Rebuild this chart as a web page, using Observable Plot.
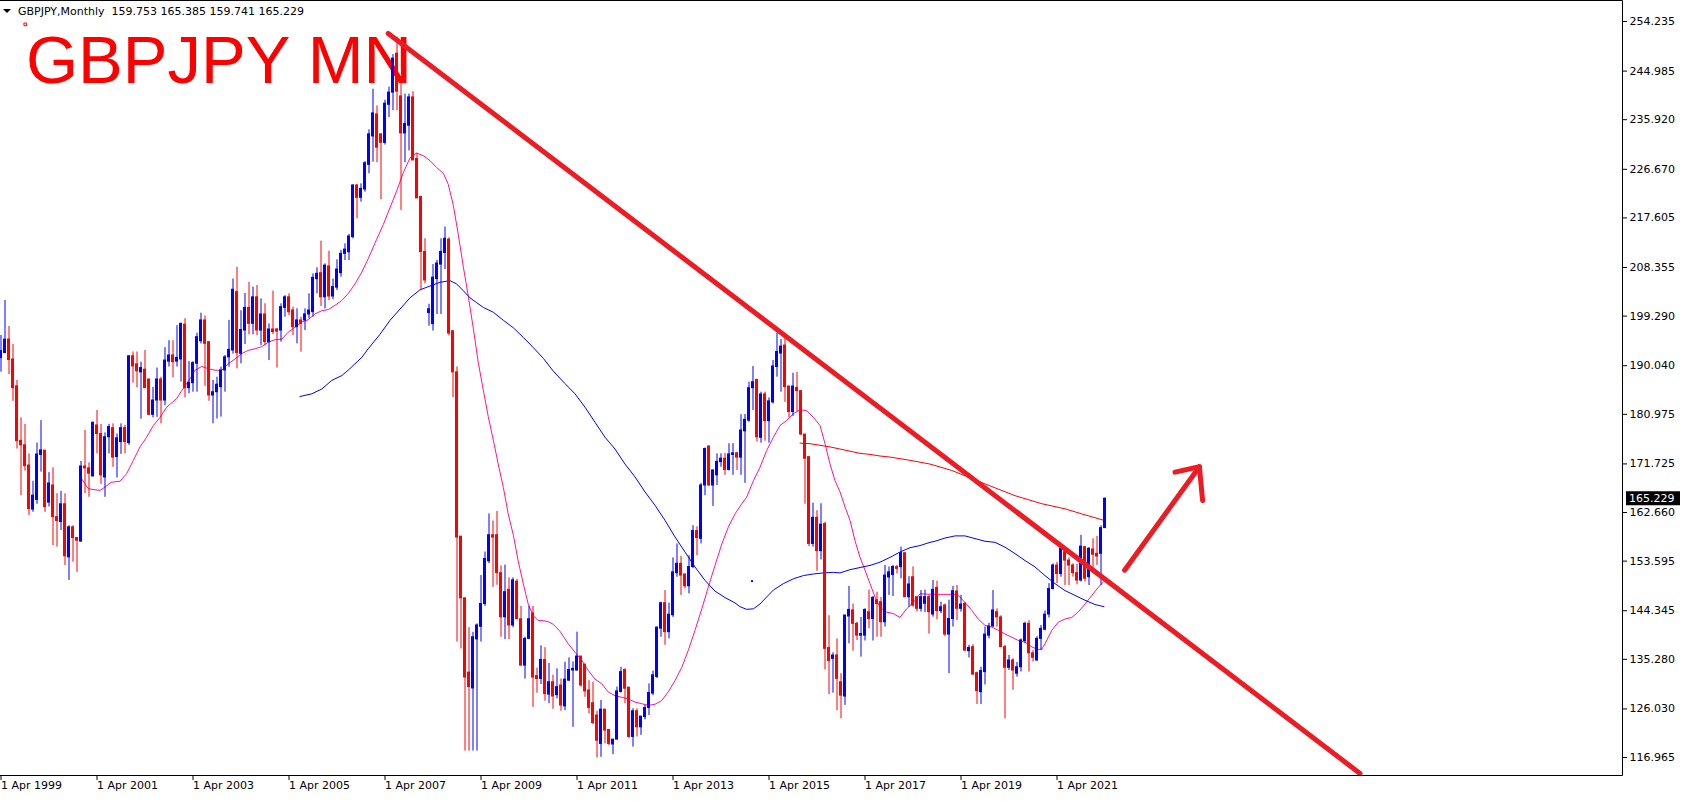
<!DOCTYPE html>
<html><head><meta charset="utf-8">
<script src="https://cdn.jsdelivr.net/npm/d3@7"></script>
<script src="https://cdn.jsdelivr.net/npm/@observablehq/plot@0.6"></script>
<style>
html,body{margin:0;padding:0;background:#fff;overflow:hidden}
#chart{position:relative;width:1692px;height:801px}
svg{display:block}
</style></head><body><div id="chart"></div>
<script>
// ---- Data: GBPJPY monthly candles, month index 0 = Apr 1999 ----
const opens = [
191.45,192.4,194.93,191.2,186.2,176.03,175.2,171.43,163.2,165.0,
173.4,174.2,164.5,167.7,161.8,160.9,164.2,154.3,159.9,157.9,
157.25,171.24,170.9,169.4,178.9,177.3,169.2,176.7,178.4,173.0,
175.8,178.4,175.6,191.8,190.3,188.8,189.3,187.47,180.88,183.55,
187.47,183.55,190.8,191.95,190.8,191.2,197.7,185.85,186.78,190.4,
194.6,198.48,194.43,184.49,185.1,186.04,189.15,191.6,192.88,203.76,
192.26,196.6,200.83,197.85,202.8,196.6,199.6,194.43,196.8,196.8,
196.6,200.83,202.8,200.34,197.23,198.48,198.48,199.6,200.03,206.18,
207.3,202.8,208.55,202.95,204.6,207.3,210.9,211.2,214.02,223.65,
221.35,222.9,227.5,232.8,236.9,233.2,231.6,238.7,240.97,248.23,
240.27,233.36,234.8,240.09,228.59,221.51,211.25,199.86,197.8,206.2,
208.9,211.07,213.55,196.47,188.8,158.16,146.66,132.8,129.85,139.0,
141.35,145.6,153.56,158.43,158.43,151.35,143.12,148.25,141.6,149.76,
142.76,134.1,139.1,143.83,132.15,131.62,135.16,128.7,131.0,128.6,
130.4,126.5,131.3,133.2,133.2,135.8,134.3,129.47,127.1,124.8,
119.5,125.9,122.1,119.4,120.3,129.2,133.3,130.0,120.8,125.6,
122.6,124.5,126.2,128.9,132.0,141.0,145.75,140.35,143.5,151.35,
153.1,151.1,148.9,152.5,159.2,157.75,167.7,174.97,167.7,169.6,
172.05,172.7,170.6,173.4,173.7,172.9,177.8,179.8,185.85,187.4,
176.6,184.67,179.7,183.2,189.8,192.3,193.8,186.16,181.4,185.9,
185.3,177.2,172.99,156.8,161.67,155.45,160.5,137.4,135.37,136.0,
131.0,128.35,143.27,144.4,141.9,139.7,139.7,144.07,142.8,146.3,
145.94,142.2,150.55,151.0,152.47,152.47,155.07,146.87,150.6,146.87,
144.7,145.63,146.87,143.64,148.6,144.26,145.32,139.9,142.8,147.93,
144.7,145.6,136.8,137.55,132.7,129.16,132.9,139.7,141.4,144.07,
143.1,137.55,133.7,135.07,132.6,133.8,138.7,141.9,136.4,135.07,
139.1,140.8,143.64,148.4,152.78,151.2,155.27,153.7,152.78,151.35,
149.98,156.2,150.6,155.77,154.96,154.96,159.753];
const highs = [
195.67,202.2,197.35,194.0,187.3,180.3,179.1,173.6,168.5,175.6,
179.8,174.2,170.1,171.0,166.15,166.6,166.15,160.2,160.2,157.9,
172.2,177.96,171.9,179.5,181.7,179.1,177.5,179.1,179.2,177.3,
179.2,178.9,191.9,192.6,192.6,190.7,192.9,187.5,186.0,189.6,
187.9,193.4,194.7,194.7,197.5,197.97,198.8,190.8,190.8,196.1,
199.84,199.3,194.43,187.3,187.9,189.77,191.95,198.5,206.2,208.4,
200.3,203.5,205.6,204.7,205.0,202.5,201.6,197.85,203.95,197.0,
201.58,203.1,203.45,200.96,200.65,199.1,200.65,203.45,207.18,208.3,
213.27,209.04,211.4,206.2,209.79,211.53,212.77,214.5,223.8,223.84,
223.96,228.1,234.03,241.6,238.5,233.2,239.56,242.0,248.05,251.3,
242.9,240.7,240.7,241.15,229.65,221.51,213.72,201.5,208.9,209.7,
213.7,215.9,213.9,196.47,189.8,158.16,146.66,141.2,140.3,141.9,
150.9,155.3,162.4,161.08,162.85,152.7,152.86,150.47,150.47,150.2,
145.16,139.4,145.16,145.16,133.65,137.8,137.46,134.54,132.33,133.5,
131.6,134.75,135.56,134.8,140.35,135.8,134.3,131.3,131.0,125.6,
127.6,125.9,122.1,120.3,130.1,133.8,133.5,130.0,126.05,126.05,
124.6,126.7,130.7,133.1,141.3,145.9,148.1,145.75,154.2,156.8,
154.5,151.2,154.6,160.2,160.0,168.1,174.7,175.1,170.6,173.6,
173.6,173.7,175.5,175.5,173.9,180.9,180.94,186.97,189.9,187.4,
185.1,185.1,184.05,191.0,196.1,194.9,195.5,186.16,188.65,188.8,
185.3,177.2,173.0,164.4,163.0,164.3,160.86,143.4,136.5,139.1,
132.6,143.45,148.9,145.6,142.2,143.1,144.7,148.2,147.0,147.8,
146.8,152.8,152.5,152.8,152.8,156.2,155.1,150.7,152.5,146.9,
148.1,148.2,147.2,149.98,149.86,145.94,145.6,146.3,148.9,149.05,
147.2,145.9,137.9,138.0,132.9,133.8,141.3,142.0,148.1,144.7,
143.4,137.9,136.0,135.4,134.7,139.1,142.2,142.5,136.9,139.5,
141.6,144.3,149.4,153.1,153.4,156.5,156.3,154.2,153.1,152.97,
158.4,156.3,156.1,157.76,158.2,160.2,165.385];
const lows = [
188.84,192.3,188.4,183.4,174.5,165.8,170.4,162.1,162.7,164.2,
170.2,162.7,163.7,156.5,156.2,159.3,152.78,150.0,153.4,151.5,
157.1,166.2,165.5,169.3,173.6,167.9,165.5,173.6,171.1,169.1,
173.5,173.6,175.2,186.8,185.9,180.07,185.85,180.9,180.3,180.4,
179.2,182.6,189.8,187.8,189.8,187.0,184.05,184.8,185.1,185.1,
194.1,186.2,183.4,179.2,180.1,180.45,185.1,189.77,192.2,189.45,
190.4,193.99,195.8,195.8,195.67,193.8,193.8,191.0,195.86,189.6,
194.43,199.1,199.4,195.67,194.12,192.57,196.6,198.78,199.1,203.45,
201.09,200.65,202.2,202.33,204.07,206.55,209.66,209.66,213.7,217.43,
220.54,222.4,225.83,228.0,227.9,221.0,231.2,236.3,237.6,237.6,
219.0,227.9,230.09,228.32,221.24,204.0,205.3,197.4,196.5,199.6,
199.6,207.97,195.6,184.09,138.5,137.2,118.17,118.17,118.17,118.17,
138.5,145.16,153.12,148.7,149.1,139.4,138.96,138.96,141.17,142.76,
134.1,131.6,138.96,126.31,128.97,130.56,127.46,127.0,125.96,127.9,
125.6,125.7,131.2,122.6,133.1,130.1,128.2,125.1,123.1,116.9,
117.0,119.5,119.2,117.5,120.3,129.0,127.0,120.6,118.9,120.8,
121.1,124.0,124.8,128.5,131.7,139.4,137.9,139.1,143.1,150.6,
147.2,148.4,147.5,152.2,154.6,156.8,165.8,167.6,163.8,167.7,
171.1,169.6,170.4,169.6,170.5,169.6,168.1,179.5,181.7,175.8,
175.6,175.97,175.6,182.9,187.9,185.1,183.2,180.3,180.57,181.4,
177.0,164.2,156.3,156.2,151.7,153.8,133.3,128.7,128.97,125.7,
124.2,126.7,138.17,136.8,138.8,135.7,138.7,140.97,138.7,139.4,
139.4,141.3,147.2,147.0,151.2,150.3,146.87,145.0,145.0,144.1,
144.1,144.0,140.0,143.14,142.65,143.8,139.5,132.6,141.3,142.5,
144.1,136.8,135.56,132.27,126.86,126.86,130.5,139.1,141.3,141.3,
137.5,124.2,133.2,129.5,131.96,132.9,138.2,132.9,134.8,134.9,
136.9,140.6,143.0,148.24,149.4,150.6,149.05,149.05,150.6,149.2,
149.7,149.7,149.05,151.5,152.8,149.05,159.741];
const closes = [
192.75,194.9,191.1,185.85,175.97,175.2,171.3,163.3,165.8,173.48,
174.25,163.66,168.07,161.8,161.05,164.2,154.5,159.9,157.9,157.4,
171.24,170.9,169.9,179.4,177.3,169.6,176.7,178.6,172.9,176.5,
178.4,175.8,191.8,189.9,189.0,189.6,185.85,180.88,183.55,187.47,
183.55,191.0,191.95,190.7,191.5,197.85,185.85,186.85,190.52,195.36,
198.48,194.12,184.49,185.1,186.5,189.15,191.6,193.0,204.2,192.4,
196.7,200.83,197.85,202.8,196.6,199.6,194.43,196.8,196.3,196.4,
200.96,202.8,200.0,197.2,198.48,197.85,199.6,200.34,206.43,207.18,
202.8,208.7,202.95,204.7,207.98,210.9,211.7,214.14,223.65,221.35,
223.03,227.8,233.2,237.1,230.7,231.6,238.9,240.97,247.3,241.15,
233.36,235.13,240.09,228.32,221.24,211.25,205.94,200.57,206.47,209.1,
211.25,213.72,196.03,188.8,157.99,146.66,131.89,130.12,139.4,141.6,
145.6,154.0,158.43,157.99,151.35,143.12,147.81,141.6,150.02,142.76,
134.1,139.1,142.76,131.89,131.62,135.16,128.79,131.0,128.35,130.1,
126.67,131.5,133.3,133.5,135.8,130.4,129.3,126.23,123.4,120.1,
125.9,122.0,119.5,120.3,129.3,132.9,129.8,120.8,125.6,122.6,
124.6,126.2,129.0,132.3,141.2,145.75,140.35,143.6,151.5,153.1,
150.9,148.9,152.5,159.2,157.9,167.7,174.5,167.7,170.5,172.1,
172.7,170.6,173.5,173.7,172.9,177.96,179.95,185.85,186.97,176.7,
184.67,179.7,183.4,189.9,192.6,193.6,186.04,181.4,186.16,185.3,
177.2,172.7,156.8,161.67,155.45,160.4,137.24,134.94,135.99,131.64,
128.5,143.45,144.5,141.9,139.7,140.0,144.5,142.8,146.75,145.6,
142.2,150.9,151.5,152.5,152.16,155.07,146.87,149.23,145.3,144.7,
146.87,146.87,144.07,148.24,144.26,145.0,139.9,142.8,147.99,144.7,
145.5,136.9,137.4,132.45,129.35,133.1,139.9,141.4,144.4,143.1,
137.55,133.7,135.07,133.2,133.8,138.8,141.9,136.4,135.56,139.1,
140.97,143.6,148.4,152.78,151.2,155.9,153.7,152.78,151.35,149.98,
156.3,150.3,155.9,154.8,154.46,159.75,165.229];

// Moving averages: [month index, price]
const pinkMA = [[20.2,168.9],[21.8,167.1],[23.5,166.9],[24.75,166.8],[26,167.4],[27.5,168.3],[29.75,168.5],[31.4,169.9],[33.1,172.4],[34.75,174.9],[36.4,176.7],[38.1,178.9],[39.75,180.4],[41.4,182.3],[43.9,183.9],[45.2,185.4],[47.25,187.6],[48.5,189.2],[50.2,189.9],[51.8,189.5],[53.5,189.2],[55.2,189.2],[56.8,190.4],[58.5,191.3],[60.2,192.3],[61.8,192.9],[63.5,193.2],[65.2,193.6],[66.8,194.4],[68.5,194.9],[70.2,195.0],[71.8,196.3],[73.5,197.2],[75.2,198.2],[76.8,198.6],[78.5,199.7],[80.2,200.3],[81.8,200.5],[83.5,201.3],[85.2,202.2],[86.8,203.5],[88.5,205.3],[90.2,207.5],[91.8,210.0],[93.9,213.6],[95.6,216.4],[97.25,219.5],[98.9,222.6],[100.6,226.1],[102.25,228.8],[103.9,229.7],[105.6,229.2],[107.25,228.3],[108.9,227.0],[110.6,225.9],[111.8,223.9],[113.1,219.9],[114.3,214.6],[115.6,208.4],[116.8,203.1],[118.1,196.9],[119.3,190.7],[120.6,185.4],[121.8,180.6],[123.1,176.1],[124.3,171.7],[125.6,167.3],[126.8,162.4],[128.1,158.4],[129.3,153.6],[130.6,149.3],[131.8,145.6],[133.1,143.4],[134.3,142.5],[135.6,142.5],[136.8,142.3],[138.1,141.8],[139.75,140.5],[141.8,138.2],[143.5,136.6],[145.2,135.1],[146.8,133.2],[148.5,131.6],[150.2,130.7],[151.8,129.2],[153.5,128.5],[155.2,128.2],[156.8,127.9],[158.5,127.3],[160.2,127.0],[161.8,126.7],[163.5,126.9],[165.2,127.6],[166.8,129.2],[168.5,131.3],[170.2,133.8],[171.8,136.9],[173.5,140.7],[175.2,144.7],[176.8,148.7],[178.5,152.8],[180.2,156.8],[181.8,159.9],[183.5,162.4],[185.2,164.3],[186.4,165.5],[188.1,168.6],[189.75,171.1],[191.4,174.2],[193.1,176.7],[194.75,178.9],[196.4,179.8],[198.1,181.1],[199.75,181.8],[201.4,181.7],[203.1,180.4],[204.75,178.9],[206,175.5],[207.25,171.7],[208.5,168.6],[209.75,166.5],[211,163.7],[212.25,161.2],[213.5,157.4],[214.75,154.3],[216,151.9],[217.25,149.4],[218.5,146.9],[219.75,145.0],[221.4,144.1],[223.1,143.8],[224.75,143.1],[226.4,144.7],[228.1,145.9],[229.75,147.5],[232.7,147.4],[235.2,147.4],[237.7,147.4],[239.3,147.2],[241,145.9],[242.7,144.4],[244.3,142.8],[246,141.6],[247.7,141.3],[249.3,140.7],[251,140.0],[252.7,139.4],[254.3,138.8],[256,138.5],[257.7,137.6],[259.3,137.1],[260.2,137.2],[261,138.2],[262.7,140.7],[264.3,142.2],[266,142.8],[267.7,143.1],[269.3,144.1],[271,145.6],[272.7,147.2],[274.3,148.7],[275.6,149.7]];
const blueMA = [[74.75,184.3],[77.7,184.8],[80.2,185.7],[82.7,187.3],[85.2,188.2],[86.8,189.2],[88.5,190.4],[90.2,191.6],[91.8,193.2],[94.75,195.9],[97.25,198.5],[99.75,200.6],[102.25,202.7],[104.75,204.2],[107.25,204.9],[109.75,205.6],[112.25,205.9],[113.9,205.3],[115.6,204.0],[117.25,202.7],[118.9,201.8],[120.6,200.9],[123.1,200.0],[125.6,198.5],[128.1,197.1],[130.6,195.3],[133.1,193.4],[135.6,191.4],[138.1,189.0],[141,186.7],[143.5,184.8],[146,182.3],[148.5,179.5],[151,176.7],[153.5,174.5],[156,171.7],[158.5,169.3],[161,166.5],[163.5,164.0],[166,161.2],[168.5,158.1],[171,155.3],[173.5,152.5],[176,150.0],[178.5,148.0],[181,146.8],[183.5,145.8],[184.75,145.1],[186.4,144.6],[188.1,144.7],[189.75,145.6],[191.4,146.9],[193.1,148.2],[195.6,149.4],[198.1,150.3],[200.6,150.9],[203.1,151.2],[205.6,151.4],[208.1,151.5],[209.75,151.4],[212.25,152.0],[214.75,152.4],[217.25,152.8],[219.75,153.4],[222.25,154.3],[224.75,155.3],[227.25,156.1],[229.75,156.5],[232.25,157.1],[233.5,157.3],[236,157.9],[238.5,158.3],[241,158.3],[243.5,157.8],[246,157.3],[248.5,157.1],[251,156.2],[253.5,155.0],[256,153.7],[258.5,152.5],[261,150.9],[263.5,149.4],[266,148.1],[268.5,147.2],[271,146.3],[273.5,145.5],[275.75,145.1]];
const redMA = [[199.75,175.6],[202.25,175.5],[204.75,175.2],[207.25,174.9],[209.75,174.5],[212.25,174.1],[214.75,173.7],[217.25,173.5],[219.75,173.2],[222.25,173.0],[224.75,172.7],[227.25,172.4],[229.75,172.05],[232.25,171.7],[237.7,170.5],[246,168.0],[253.5,165.8],[260.2,164.3],[266,163.35],[270.2,162.4],[275.75,161.2]];

// Drawn objects
const trendLine = [[96.8,252.0],[339.75,114.0]];
const arrowShaft = [[280.9,151.9],[299.6,171.2]];
const arrowHead = [[293.5,170.2],[299.6,171.2],[300.4,164.9]];
const blueMarker = [[187.75,149.87]];
const redMarker = [[6.07,253.7]];

// Axes
const yTicks = [254.235,244.985,235.920,226.670,217.605,208.355,199.290,190.040,180.975,171.725,162.660,153.595,144.345,135.280,126.030,116.965];
const xTickMonths = [0,24,48,72,96,120,144,168,192,216,240,264];
const xTickLabels = ["1 Apr 1999","1 Apr 2001","1 Apr 2003","1 Apr 2005","1 Apr 2007","1 Apr 2009","1 Apr 2011","1 Apr 2013","1 Apr 2015","1 Apr 2017","1 Apr 2019","1 Apr 2021"];

const symbolName = "GBPJPY,Monthly";
const lastQuote = [159.753,165.385,159.741,165.229];
const titleText = "GBPJPY MN";

// ---- Build ----
const BULL = "#0000ff", BEAR = "#ff0000";
const candles = opens.map((o,i)=>({m:i,o,h:highs[i],l:lows[i],c:closes[i]}));
const col = d => d.c > d.o ? BULL : BEAR;
const labelOf = new Map(xTickMonths.map((m,i)=>[m,xTickLabels[i]]));

const W = 1692, H = 801, mR = 70, mB = 26;
const plot = Plot.plot({
  width: W, height: H,
  marginLeft: 0, marginTop: 0, marginRight: mR, marginBottom: mB,
  x: {domain: [-0.125, 405.375], axis: null},
  y: {domain: [113.615, 258.151], axis: null},
  color: {type: "identity"},
  style: {fontFamily: "DejaVu Sans", fontSize: "11px", color: "#000", background: "#fff", overflow: "visible"},
  marks: [
    Plot.line(pinkMA, {x: d=>d[0], y: d=>d[1], stroke: "#ff1493", strokeWidth: 1}),
    Plot.line(blueMA, {x: d=>d[0], y: d=>d[1], stroke: "#0000ff", strokeWidth: 1}),
    Plot.line(redMA, {x: d=>d[0], y: d=>d[1], stroke: "#ff0000", strokeWidth: 1}),
    Plot.ruleX(candles, {x: "m", y1: "l", y2: "h", stroke: col, strokeWidth: 1}),
    Plot.rect(candles, {x1: d=>d.m-0.375, x2: d=>d.m+0.375, y1: "o", y2: "c", fill: col, insetTop: -0.5, insetBottom: -0.5}),
    Plot.dot(blueMarker, {x: d=>d[0], y: d=>d[1], r: 1.2, fill: "#0000ff"}),
    Plot.dot(redMarker, {x: d=>d[0], y: d=>d[1], r: 1.5, symbol: "square", stroke: "#ff0000", fill: "none", strokeWidth: 1}),
    Plot.line(trendLine, {x: d=>d[0], y: d=>d[1], stroke: "#ed1c24", strokeWidth: 5, strokeLinecap: "round"}),
    Plot.line(arrowShaft, {x: d=>d[0], y: d=>d[1], stroke: "#ed1c24", strokeWidth: 5, strokeLinecap: "round"}),
    Plot.line(arrowHead, {x: d=>d[0], y: d=>d[1], stroke: "#ed1c24", strokeWidth: 5, strokeLinecap: "round", strokeLinejoin: "round"}),
    Plot.axisY(yTicks, {anchor: "right", tickSize: 4, tickPadding: 3, tickFormat: d=>d.toFixed(3), label: null, fill: "#000"}),
    Plot.axisX(xTickMonths, {anchor: "bottom", tickSize: 5, tickPadding: 1, tickFormat: d=>labelOf.get(d), textAnchor: "start", label: null, fill: "#000"})
  ]
});
document.getElementById("chart").appendChild(plot);

const svg = d3.select(plot);
const fx = W - mR, fy = H - mB;
// title under the marks
svg.insert("text", "g")
  .attr("x", 26).attr("y", 83)
  .attr("text-anchor", "start")
  .attr("font-family", "Liberation Sans, Arial, sans-serif")
  .attr("font-size", 67).attr("fill", "#ff0000")
  .text(titleText);
// frame
const fr = svg.append("g").attr("stroke", "#000").attr("stroke-width", 1).attr("fill", "none");
fr.append("path").attr("d", `M0,0.5H${fx+0.5}V${fy+0.5}H0`);
// header
svg.append("path").attr("d", "M3,9L11,9L7,13Z").attr("fill", "#000");
svg.append("text").attr("x", 18).attr("y", 15)
  .attr("text-anchor", "start")
  .attr("font-family", "DejaVu Sans").attr("font-size", 11).attr("fill", "#000")
  .attr("xml:space", "preserve")
  .text(symbolName + "  " + lastQuote.map(v=>v.toFixed(3)).join(" "));
// current price box
const yS = plot.scale("y");
const yc = yS.apply(closes[closes.length-1]);
svg.append("rect").attr("x", fx + 4).attr("y", yc - 7).attr("width", 54).attr("height", 14).attr("fill", "#000");
svg.append("text").attr("x", fx + 7).attr("y", yc).attr("dy", "0.35em")
  .attr("text-anchor", "start")
  .attr("font-family", "DejaVu Sans").attr("font-size", 11).attr("fill", "#fff")
  .text(closes[closes.length-1].toFixed(3));
</script></body></html>
